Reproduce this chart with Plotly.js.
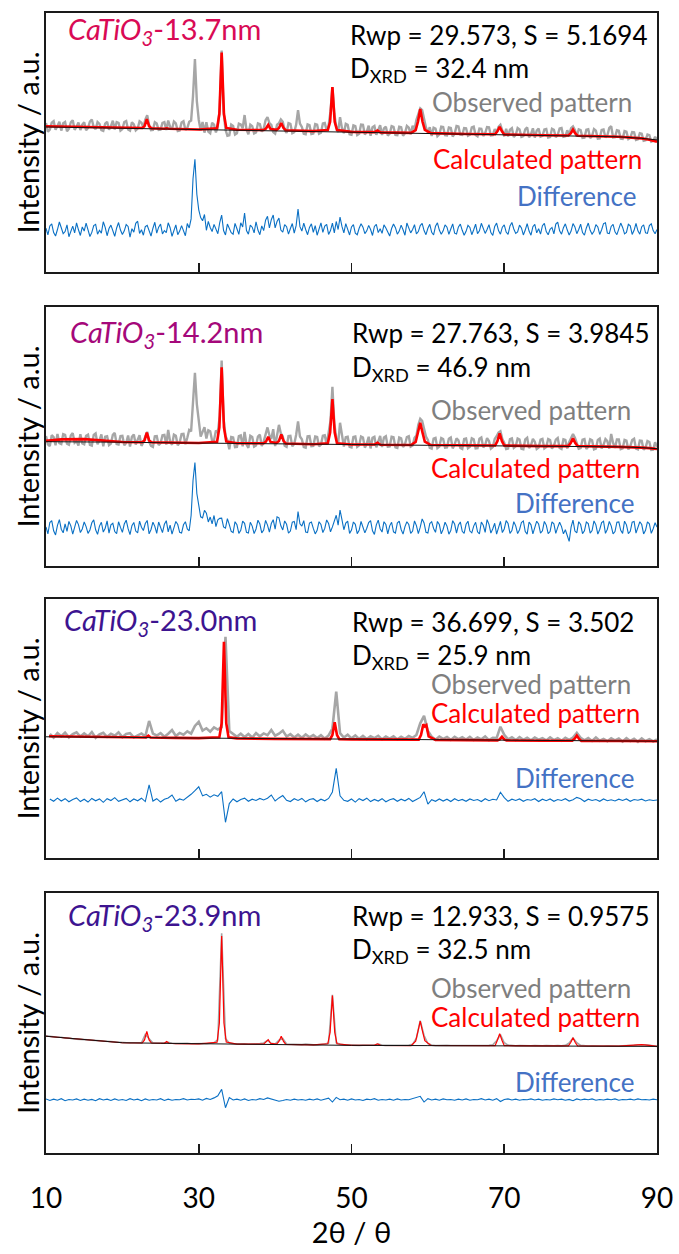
<!DOCTYPE html>
<html>
<head>
<meta charset="utf-8">
<script src="https://cdn.plot.ly/plotly-3.0.1.min.js"></script>
<style>html,body{margin:0;padding:0;background:#fff;}#chart{width:679px;height:1254px;}</style>
</head>
<body>
<div id="chart"></div>
<script>
// ---------- data (intensities in a.u.) ----------
const fineTheta = [10,10.25,10.5,10.75,11,11.25,11.5,11.75,12,12.25,12.5,12.75,13,13.25,13.5,13.75,14,14.25,14.5,14.75,15,15.25,15.5,15.75,16,16.25,16.5,16.75,17,17.25,17.5,17.75,18,18.25,18.5,18.75,19,19.25,19.5,19.75,20,20.25,20.5,20.75,21,21.25,21.5,21.75,22,22.25,22.5,22.75,23,23.25,23.5,23.75,24,24.25,24.5,24.75,25,25.25,25.5,25.75,26,26.25,26.5,26.75,27,27.25,27.5,27.75,28,28.25,28.5,28.75,29,29.25,29.5,29.75,30,30.25,30.5,30.75,31,31.25,31.5,31.75,32,32.25,32.5,32.75,33,33.25,33.5,33.75,34,34.25,34.5,34.75,35,35.25,35.5,35.75,36,36.25,36.5,36.75,37,37.25,37.5,37.75,38,38.25,38.5,38.75,39,39.25,39.5,39.75,40,40.25,40.5,40.75,41,41.25,41.5,41.75,42,42.25,42.5,42.75,43,43.25,43.5,43.75,44,44.25,44.5,44.75,45,45.25,45.5,45.75,46,46.25,46.5,46.75,47,47.25,47.5,47.75,48,48.25,48.5,48.75,49,49.25,49.5,49.75,50,50.25,50.5,50.75,51,51.25,51.5,51.75,52,52.25,52.5,52.75,53,53.25,53.5,53.75,54,54.25,54.5,54.75,55,55.25,55.5,55.75,56,56.25,56.5,56.75,57,57.25,57.5,57.75,58,58.25,58.5,58.75,59,59.25,59.5,59.75,60,60.25,60.5,60.75,61,61.25,61.5,61.75,62,62.25,62.5,62.75,63,63.25,63.5,63.75,64,64.25,64.5,64.75,65,65.25,65.5,65.75,66,66.25,66.5,66.75,67,67.25,67.5,67.75,68,68.25,68.5,68.75,69,69.25,69.5,69.75,70,70.25,70.5,70.75,71,71.25,71.5,71.75,72,72.25,72.5,72.75,73,73.25,73.5,73.75,74,74.25,74.5,74.75,75,75.25,75.5,75.75,76,76.25,76.5,76.75,77,77.25,77.5,77.75,78,78.25,78.5,78.75,79,79.25,79.5,79.75,80,80.25,80.5,80.75,81,81.25,81.5,81.75,82,82.25,82.5,82.75,83,83.25,83.5,83.75,84,84.25,84.5,84.75,85,85.25,85.5,85.75,86,86.25,86.5,86.75,87,87.25,87.5,87.75,88,88.25,88.5,88.75,89,89.25,89.5,89.75,90];
const twoTheta = [10,10.5,11,11.5,12,12.5,13,13.5,14,14.5,15,15.5,16,16.5,17,17.5,18,18.5,19,19.5,20,20.5,21,21.5,22,22.5,23,23.5,24,24.5,25,25.5,26,26.5,27,27.5,28,28.5,29,29.5,30,30.5,31,31.5,32,32.5,33,33.5,34,34.5,35,35.5,36,36.5,37,37.5,38,38.5,39,39.5,40,40.5,41,41.5,42,42.5,43,43.5,44,44.5,45,45.5,46,46.5,47,47.5,48,48.5,49,49.5,50,50.5,51,51.5,52,52.5,53,53.5,54,54.5,55,55.5,56,56.5,57,57.5,58,58.5,59,59.5,60,60.5,61,61.5,62,62.5,63,63.5,64,64.5,65,65.5,66,66.5,67,67.5,68,68.5,69,69.5,70,70.5,71,71.5,72,72.5,73,73.5,74,74.5,75,75.5,76,76.5,77,77.5,78,78.5,79,79.5,80,80.5,81,81.5,82,82.5,83,83.5,84,84.5,85,85.5,86,86.5,87,87.5,88,88.5,89,89.5,90];
const calcTheta = [10,12,15,18,20,22.6,22.9,23.2,23.5,23.8,25.5,25.8,26.1,27,30,32.4,32.7,33.0,33.3,33.6,35,38.5,38.8,39.1,39.4,40.2,40.5,40.8,41.1,41.4,45,46.9,47.2,47.5,47.8,48.1,50,53.0,53.4,53.8,57.8,58.4,58.7,59.0,59.3,59.6,60.4,65,68.8,69.1,69.4,69.7,70.0,75,78.4,78.7,79.0,79.3,79.6,85,87,88,89,90];
const calcTheta3 = [10.4,15,20,23.1,23.4,23.7,27,30,32.7,33.0,33.3,33.6,33.9,35,40,45,47.2,47.5,47.8,48.1,48.4,50,55,58.8,59.1,59.4,59.6,59.8,60.1,61,65,69.1,69.4,69.7,70.0,70.3,75,78.9,79.2,79.5,79.8,80.1,85,90];
const bgTheta = [10,12,15,18,20,25,30,40,50,60,70,80,85,88,90];

// Sample 1: CaTiO3-13.7nm
const obs1 = [57.5,54.2,55.0,57.6,58.2,54.9,56.4,58.0,54.6,57.4,57.9,54.3,55.3,57.8,58.6,54.9,56.1,57.7,54.8,56.9,
57.8,54.7,55.6,58.1,58.9,55.9,55.1,57.9,57.2,54.8,54.5,57.3,58.0,54.9,56.3,58.4,55.0,57.9,57.6,54.6,
55.2,57.9,58.3,55.0,54.6,57.8,57.0,54.7,55.4,58.2,57.6,55.8,58.8,60.5,56.8,54.8,54.9,57.8,57.3,54.9,
55.0,57.6,57.9,54.8,58.5,56.0,55.2,58.1,57.4,54.4,54.6,57.7,58.2,54.9,55.6,58.0,58.5,68.0,82.2,66.0,
58.8,54.6,57.9,53.8,57.8,54.2,53.6,57.6,56.9,53.9,56.5,63.0,85.5,62.0,55.0,52.6,52.8,56.9,56.4,53.1,
53.6,57.3,57.0,55.5,60.6,55.0,53.2,56.9,56.3,53.5,53.9,57.4,57.1,54.2,55.3,58.6,59.8,57.5,56.8,54.0,
53.4,56.9,57.4,58.9,58.0,54.8,53.7,57.5,57.2,53.6,54.0,56.8,62.5,57.3,56.0,53.4,53.2,57.0,56.7,53.3,
53.5,57.1,56.9,53.4,53.8,57.3,57.5,54.6,56.5,62.0,71.4,61.0,56.2,54.0,59.8,55.5,53.6,57.2,56.8,53.2,
53.0,56.6,56.3,52.9,53.4,56.9,56.8,53.1,54.2,56.5,52.6,55.9,56.4,53.0,54.8,56.7,52.9,55.4,56.1,52.7,
53.4,56.3,56.0,52.9,52.8,56.1,55.9,52.6,53.6,56.4,55.7,53.2,56.5,55.0,58.8,61.5,63.2,62.5,58.5,55.8,
53.8,55.9,52.5,55.7,55.4,52.4,53.1,56.1,56.0,52.8,52.7,55.8,55.6,52.3,53.4,56.4,56.2,53.0,52.9,55.6,
55.5,52.6,53.0,55.8,56.1,52.9,52.4,55.4,55.3,52.5,53.6,56.0,55.9,52.7,52.8,55.2,53.8,56.0,56.8,54.5,
52.4,55.3,52.3,54.9,55.5,52.1,52.9,55.6,55.0,52.2,52.5,55.1,55.8,52.0,53.2,55.5,51.9,54.6,55.4,52.3,
52.6,55.0,55.2,51.9,52.1,55.3,54.9,52.0,53.0,55.4,55.6,52.2,52.4,54.7,53.0,55.5,56.2,54.8,52.3,55.1,
54.8,51.8,51.9,54.9,55.1,51.7,52.5,55.2,54.6,51.5,51.6,54.8,55.0,51.9,52.8,55.6,56.3,52.0,52.1,54.7,
54.5,51.5,51.4,54.4,54.2,51.3,51.8,54.0,53.9,51.0,51.2,53.6,53.4,50.7,50.9,53.1,52.8,50.3,50.6,52.2,
51.0];
const calc1 = [56.3,56.2,56.0,55.7,55.6,
55.6,56.3,59.0,56.3,55.5,
55.3,55.5,55.3,
55.2,55.0,
55.5,61.0,84.7,61.0,55.6,
54.9,
54.8,55.4,56.8,55.2,
54.9,55.6,57.5,55.6,54.7,
54.4,
54.8,58.0,71.4,58.0,54.8,
54.1,
54.0,54.6,53.9,
53.7,54.8,58.0,62.9,58.0,54.9,53.6,
53.3,
53.2,54.3,56.0,54.3,53.1,
52.8,
52.7,53.5,55.0,53.5,52.6,
52.2,51.9,51.6,51.1,50.3];
const bg1 = [56.0,55.9,55.8,55.6,55.5,55.3,55.0,54.5,54.0,53.5,53.1,52.6,52.2,51.6,51.0];
const diff1 = [16.9,14.3,17.8,18.6,15.2,13.9,16.4,19.3,17.1,14.8,15.6,18.2,13.6,16.0,17.7,15.1,19.0,16.3,14.1,17.4,
15.8,18.9,16.6,13.7,15.3,17.9,18.4,14.6,16.1,15.0,19.4,17.2,14.0,16.8,18.1,15.5,13.8,17.0,19.1,16.2,
14.5,15.9,18.3,17.6,13.5,16.7,15.4,18.8,19.6,14.9,16.3,14.2,17.5,18.0,15.7,13.9,16.9,19.2,15.0,17.3,
18.5,14.7,16.0,15.2,19.0,17.1,13.8,16.5,18.2,14.4,15.8,17.9,16.2,14.0,18.7,17.0,20.5,36.0,43.5,30.0,
24.0,21.0,19.8,22.2,16.1,19.5,17.2,15.6,18.4,16.9,14.8,19.1,22.0,16.0,14.3,18.5,17.0,15.2,14.6,18.8,
16.7,14.5,19.0,17.4,22.8,16.0,14.6,18.1,17.3,15.1,19.4,16.2,14.4,17.8,16.0,20.0,21.5,17.0,20.2,22.0,
17.0,19.5,20.8,16.2,15.4,18.3,17.5,14.6,16.8,18.7,15.0,17.9,24.3,17.5,15.8,18.9,16.4,14.4,17.2,18.6,
15.3,17.9,14.2,16.6,19.0,15.3,17.7,18.4,14.5,16.0,18.9,15.1,19.5,16.4,21.2,17.6,15.1,18.7,16.5,14.3,
17.4,18.3,15.0,14.4,16.9,18.6,17.3,14.8,15.9,18.0,16.4,14.1,17.6,18.4,15.2,16.7,14.9,18.2,17.0,15.4,
13.9,16.8,18.5,17.1,14.6,15.8,18.1,16.3,14.2,18.9,17.0,15.1,16.4,18.3,14.7,15.6,17.9,18.8,16.0,14.4,
16.9,18.4,15.3,14.3,17.7,19.0,16.2,14.6,15.9,18.2,17.3,14.5,16.6,18.6,15.0,14.7,17.4,18.5,16.1,14.2,
15.7,18.0,17.2,14.4,16.3,18.5,14.8,15.9,18.8,17.0,14.9,16.4,18.3,15.2,14.1,17.6,18.9,16.0,14.6,17.3,
18.2,15.4,14.5,17.8,19.1,16.6,14.9,15.5,18.1,17.0,14.3,16.2,18.7,15.8,14.2,17.5,18.4,15.1,16.7,14.6,
17.9,18.8,15.6,14.4,16.5,17.2,14.7,18.5,19.3,15.9,14.6,17.1,18.6,16.2,14.3,15.8,18.7,17.4,14.8,16.4,
18.5,15.2,14.2,17.0,18.9,16.1,14.6,15.7,18.3,17.4,14.5,16.3,18.7,19.0,15.0,14.8,17.6,18.4,15.5,14.4,
16.8,18.9,17.2,14.7,15.3,18.4,17.8,14.5,16.1,18.8,15.9,14.6,17.5,18.2,15.1,14.9,17.9,18.6,16.0,14.8,
16.4];

// Sample 2: CaTiO3-14.2nm
const obs2 = [50.2,47.0,46.3,50.5,49.8,46.6,51.0,47.4,47.1,50.9,50.6,47.2,46.8,50.4,51.3,47.6,48.2,46.5,50.9,47.3,
47.0,50.3,50.7,46.8,46.5,50.6,51.2,47.0,48.4,50.8,46.2,49.9,50.1,46.7,47.3,50.6,51.4,47.1,46.9,50.2,
50.3,46.6,47.5,50.4,46.1,49.9,50.8,46.9,48.7,50.5,46.4,47.8,50.0,51.8,48.0,46.4,46.0,50.1,50.2,46.7,
47.4,50.5,50.6,46.9,52.5,48.0,46.8,50.7,50.3,46.6,47.7,50.9,51.0,47.0,49.5,52.5,52.0,62.0,74.6,62.5,
55.0,50.0,51.8,53.6,49.2,52.4,52.0,48.4,48.6,52.3,51.5,58.0,79.3,57.0,50.2,48.6,45.1,49.8,49.6,45.9,
46.0,50.1,50.4,46.2,51.8,47.0,45.6,50.3,49.8,46.1,46.5,50.0,50.7,46.3,48.0,51.0,53.5,50.5,49.0,52.8,
46.3,50.4,54.5,51.2,50.1,46.4,46.0,50.2,50.3,46.2,47.1,50.6,55.8,50.0,48.9,45.9,45.7,50.1,50.2,46.3,
46.4,50.0,49.8,46.2,46.9,50.3,50.5,46.8,50.8,56.0,69.2,55.0,49.6,47.0,55.3,50.5,46.1,49.7,49.9,46.0,
45.8,49.8,50.0,46.0,46.6,50.0,49.6,45.7,47.3,49.9,45.4,49.5,49.9,45.8,48.2,50.2,45.9,49.6,50.1,46.1,
46.2,49.9,49.7,45.8,45.6,49.6,49.3,45.9,47.0,49.8,50.1,46.1,46.5,49.5,50.4,54.5,56.8,56.0,53.0,50.0,
48.7,45.6,45.3,49.2,49.5,45.5,46.1,49.4,49.0,45.7,45.8,49.1,49.6,45.4,46.9,49.3,48.5,45.6,45.2,49.0,
49.2,45.5,46.0,49.3,48.9,45.4,45.5,49.1,49.6,45.8,46.7,49.4,48.3,45.3,45.9,49.0,50.1,51.5,52.0,49.0,
47.6,45.2,45.4,49.0,49.3,45.6,46.2,49.2,48.8,45.3,45.1,48.9,49.5,45.5,46.6,49.1,48.0,45.2,45.7,48.8,
49.1,45.4,45.9,49.0,48.6,45.3,46.4,48.8,49.4,45.6,45.2,48.9,48.7,45.4,47.8,49.8,51.0,49.5,47.5,45.3,
45.5,48.8,49.0,45.2,46.1,48.9,48.5,45.0,45.3,48.7,49.2,45.4,46.8,49.0,48.2,45.3,51.0,47.5,45.6,48.9,
48.9,45.1,45.4,48.7,48.4,45.0,46.2,48.6,49.1,45.3,45.0,48.4,48.3,44.9,45.7,48.3,47.9,44.8,44.9,47.8,
46.0];
const calc2 = [48.3,48.9,49.0,48.3,47.9,
47.8,48.5,51.5,48.5,47.8,
47.7,47.9,47.7,
47.6,47.5,
48.0,53.5,76.7,53.5,48.1,
47.4,
47.4,48.0,49.9,47.9,
47.5,48.3,50.8,48.3,47.3,
47.0,
47.4,51.5,64.4,51.5,47.4,
46.9,
46.9,47.6,46.8,
46.7,47.9,51.5,55.3,51.5,48.0,46.7,
46.5,
46.5,48.2,51.2,48.2,46.5,
46.3,
46.3,47.5,49.3,47.5,46.3,
46.0,45.9,45.7,45.5,45.2];
const bg2 = [48.0,48.0,47.9,47.8,47.8,47.6,47.5,47.2,46.9,46.6,46.4,46.2,46.0,45.7,45.3];
const diff2 = [15.1,12.4,16.8,17.5,13.6,12.0,15.7,17.9,14.2,12.8,16.3,13.4,17.2,15.5,12.3,14.8,17.6,16.0,12.9,14.3,
17.0,15.2,12.6,13.9,16.7,17.8,14.0,12.2,15.4,16.9,13.1,14.6,17.4,12.7,15.9,16.5,13.3,12.5,17.1,14.9,
13.0,16.2,17.7,14.4,12.1,15.6,16.8,13.5,12.8,17.3,15.0,13.7,16.4,17.6,12.4,14.1,16.9,15.3,12.6,17.0,
14.7,12.9,16.1,17.5,13.2,15.8,12.3,14.9,17.2,16.0,13.0,12.7,15.9,17.1,14.3,13.6,19.5,33.0,39.9,28.0,
22.5,19.0,18.6,21.5,20.4,17.0,18.9,16.3,19.5,15.2,17.8,18.4,18.5,15.1,14.6,18.3,16.0,13.4,12.9,17.1,
15.9,12.6,13.8,17.3,16.5,13.0,12.7,16.9,15.4,12.5,14.3,17.7,16.2,12.8,13.9,17.6,15.8,13.1,16.4,17.9,
14.2,19.0,18.6,15.5,13.9,17.4,16.1,12.7,13.5,16.9,17.2,14.0,21.0,16.3,15.4,17.5,13.1,12.9,16.6,17.0,
14.5,12.4,13.8,17.1,16.0,12.9,14.5,17.8,16.4,13.2,15.1,17.6,19.6,15.8,21.6,17.9,14.0,16.6,17.3,12.6,
13.9,17.0,16.1,12.5,13.8,17.2,15.0,12.8,14.6,16.8,17.5,13.6,12.2,15.9,17.7,14.4,13.1,17.1,16.0,12.4,
15.5,16.9,13.2,12.7,16.6,17.3,14.1,12.3,15.2,17.1,16.0,12.6,13.5,17.4,15.6,12.5,15.0,18.2,16.6,13.0,
12.7,16.4,17.1,14.5,13.0,17.2,16.0,12.4,14.2,16.9,15.4,12.3,13.7,17.5,16.2,12.7,15.8,17.0,13.4,12.6,
16.1,17.3,13.5,12.8,15.4,16.9,13.2,12.4,17.0,15.7,13.0,17.9,16.1,12.7,14.4,16.5,12.3,15.3,17.2,12.9,
14.3,17.5,16.4,12.6,13.7,17.1,15.5,12.5,14.0,16.8,17.4,13.3,12.3,17.0,15.9,12.4,14.8,17.3,16.2,12.7,
13.6,17.2,15.8,12.5,13.3,17.0,16.3,12.6,14.9,16.9,15.2,12.4,14.0,12.0,9.5,15.0,17.7,13.5,12.8,17.1,
16.0,12.5,13.6,17.0,16.4,12.7,13.7,17.4,15.9,12.3,14.1,16.8,17.3,12.6,14.2,17.2,15.5,12.4,13.3,16.9,
17.0,13.8,12.6,17.3,15.9,12.5,13.4,16.9,17.2,12.7,15.1,17.1,16.0,12.4,13.8,17.0,16.3,12.6,14.4,16.7,
15.0];

// Sample 3: CaTiO3-23.0nm
const obs3 = [null,47.9,46.5,48.2,47.0,48.4,46.6,47.8,48.5,46.9,
48.1,47.0,48.6,46.4,47.7,48.3,46.8,48.0,47.2,48.5,
46.7,47.9,48.2,46.6,47.5,48.1,46.9,52.9,48.0,47.3,
48.2,46.8,48.0,49.4,47.1,48.3,47.6,48.9,48.0,51.0,
52.6,49.2,50.1,48.8,50.4,49.6,50.5,85.4,49.0,47.9,
46.8,48.0,46.7,47.9,46.5,48.2,47.0,48.1,47.4,49.4,
47.2,48.0,49.2,46.9,47.8,46.5,47.6,46.4,47.7,46.6,
47.5,46.3,47.4,46.1,47.3,50.0,64.2,48.2,46.5,47.6,
46.2,47.3,46.0,47.1,45.9,47.0,46.3,47.2,45.8,46.9,
46.1,47.0,45.8,46.8,46.0,47.1,46.4,47.5,52.0,54.9,
49.0,46.8,45.7,46.9,46.0,46.7,45.6,46.8,45.9,46.6,
45.7,46.8,45.6,46.5,45.8,46.9,45.5,46.4,46.3,50.7,
47.6,45.8,46.6,45.5,46.7,45.6,46.4,45.4,46.5,45.7,
46.3,45.4,46.6,45.5,46.2,45.3,46.4,45.6,46.5,48.3,
46.4,45.4,46.3,45.2,46.5,45.3,46.0,45.1,46.2,45.4,
46.1,45.0,46.3,45.2,46.0,44.9,46.2,45.1,45.9,45.0,
45.8];
const calc3 = [47.0,46.8,46.6,46.5,47.2,46.5,46.4,46.3,46.6,52.0,83.5,52.0,46.6,46.2,46.0,45.9,45.9,47.5,52.4,47.5,45.9,45.8,45.7,45.7,47.5,51.6,50.8,51.3,47.0,45.6,45.5,45.4,45.8,46.8,45.8,45.4,45.3,45.3,46.0,47.3,46.0,45.2,45.2,45.1];
const bg3 = [46.8,46.8,46.7,46.6,46.6,46.4,46.3,46.0,45.8,45.6,45.4,45.25,45.2,45.15,45.1];
const diff3 = [null,22.8,21.9,23.1,22.0,22.9,21.7,22.6,23.2,21.8,
22.7,21.6,23.0,22.1,22.8,21.5,22.9,22.2,23.3,21.9,
22.5,23.0,21.7,22.8,22.1,23.1,21.8,28.2,22.0,22.9,
21.6,22.7,23.2,24.3,21.9,22.8,22.3,23.4,24.6,26.0,
27.5,24.0,24.6,23.5,24.4,23.8,25.6,13.8,21.0,22.8,
21.7,22.6,23.1,21.9,22.7,22.2,23.0,22.4,23.1,24.3,
22.0,23.2,24.1,22.3,21.8,22.9,22.2,23.0,21.7,22.6,
22.9,21.8,22.7,22.1,23.0,25.5,34.6,24.0,22.3,21.9,
22.8,21.6,22.9,22.2,23.1,21.8,22.6,22.0,22.9,21.7,
22.5,22.9,21.9,22.7,22.1,23.0,21.8,22.6,23.4,25.6,
20.8,22.5,21.9,22.8,22.0,22.7,21.8,22.9,22.1,22.6,
21.9,22.8,22.2,22.6,21.8,22.9,22.1,22.7,22.4,25.4,
23.3,21.9,22.7,22.2,22.8,21.9,22.6,22.3,22.9,21.8,
22.7,22.1,22.8,21.9,22.6,22.2,22.9,22.0,22.5,23.4,
22.9,21.8,22.7,22.2,22.6,21.9,22.8,22.1,22.5,22.0,
22.7,22.2,22.8,21.9,22.6,22.3,22.7,22.0,22.5,22.2,
22.4];

// Sample 4: CaTiO3-23.9nm
const obs4 = [45.1,44.8,44.7,44.5,44.5,44.2,44.2,43.9,43.9,43.7,
43.6,43.5,43.2,43.2,43.0,42.9,42.8,42.7,42.6,42.5,
42.4,42.4,42.3,42.4,42.3,42.4,45.6,43.8,42.3,42.3,
42.2,42.3,42.6,42.2,42.1,42.2,42.1,42.2,42.0,42.1,
42.0,42.1,42.0,42.2,42.4,43.5,84.5,44.0,42.3,42.0,
41.9,41.9,42.0,41.8,41.9,41.9,42.1,42.3,43.3,42.2,
41.9,43.4,44.0,41.9,41.8,41.7,41.8,41.7,41.9,41.7,
41.6,41.6,41.7,41.9,42.3,60.8,42.4,41.8,41.6,41.5,
41.4,41.5,41.4,41.5,41.5,41.6,41.5,41.9,41.5,41.4,
41.4,41.3,41.4,41.3,41.4,41.5,41.8,44.2,50.9,45.2,
42.1,41.5,41.3,41.4,41.3,41.4,41.3,41.3,41.4,41.3,
41.3,41.4,41.3,41.3,41.4,41.3,41.4,41.6,43.2,45.5,
42.4,41.5,41.3,41.2,41.3,41.2,41.3,41.2,41.3,41.2,
41.2,41.3,41.2,41.2,41.3,41.2,41.4,42.3,44.2,42.4,
41.4,41.2,41.1,41.2,41.1,41.2,41.1,41.2,41.1,41.2,
41.1,41.2,41.2,41.3,41.4,41.6,41.7,41.6,41.4,41.2,
41.0];
const calc4 = [44.9,44.4,43.6,42.8,42.4,
42.3,43.5,46.8,43.5,42.3,
42.2,42.9,42.2,
42.1,42.0,
42.6,50.0,83.5,50.0,42.7,
41.9,
41.9,42.6,43.6,42.2,
41.9,42.9,44.9,42.9,41.8,
41.6,
42.0,46.5,60.6,46.5,42.0,
41.4,
41.4,42.0,41.4,
41.3,43.0,46.8,50.7,46.8,43.2,41.4,
41.3,
41.3,43.4,45.9,43.4,41.3,
41.2,
41.2,42.5,44.3,42.5,41.2,
41.1,41.4,41.7,41.4,41.0];
const bg4 = [44.9,44.4,43.6,42.8,42.4,42.2,42.0,41.7,41.4,41.3,41.2,41.1,41.05,41.0,41.0];
const diff4 = [20.8,20.2,20.7,20.3,20.9,20.1,20.6,20.4,20.8,20.2,
20.7,20.3,20.6,20.1,20.9,20.4,20.7,20.2,20.8,20.3,
20.6,20.2,20.9,20.4,20.7,20.1,20.8,20.3,20.6,20.4,
20.9,20.2,20.7,20.3,20.6,20.5,20.9,20.4,20.7,20.6,
20.8,20.3,21.0,20.6,21.2,22.0,24.5,17.4,21.3,20.4,
20.7,20.3,20.8,20.2,20.6,20.4,20.9,20.6,21.2,20.8,
20.3,19.9,20.2,20.6,20.3,20.7,20.4,20.6,20.3,20.7,
20.4,20.8,20.3,20.6,21.1,19.6,21.4,20.5,20.7,20.3,
20.8,20.4,20.6,20.2,20.7,20.5,20.9,20.3,20.6,20.4,
20.7,20.3,20.8,20.4,20.6,20.5,20.9,21.2,21.8,19.6,
20.9,20.4,20.7,20.3,20.8,20.5,20.6,20.3,20.7,20.4,
20.8,20.3,20.6,20.5,20.9,20.4,20.7,20.3,20.9,19.8,
20.6,20.8,20.4,20.7,20.3,20.6,20.5,20.8,20.4,20.7,
20.3,20.6,20.4,20.8,20.5,20.7,20.3,20.6,20.1,20.8,
20.4,20.7,20.5,20.8,20.3,20.6,20.4,20.7,20.5,20.8,
20.3,20.6,20.5,20.7,20.4,20.8,20.5,20.6,20.4,20.7,
20.5];

// labels
const sampleSize = ['13.7nm','14.2nm','23.0nm','23.9nm'];
const rwpValues = ['29.573','27.763','36.699','12.933'];
const sValues = ['5.1694','3.9845','3.502','0.9575'];
const dxrdValues = ['32.4','46.9','25.9','32.5'];
const tickVals = [10,30,50,70,90];
const innerTicks = [30,50,70];

// ---------- styling ----------
const FONT = 'Lato, "Open Sans", "DejaVu Sans", sans-serif';
const titleColors = ['#d90a55','#a5087a','#3d1490','#3d1490'];
const obsWidth = [2.4,2.4,2.6,1.6];
const calcWidth = [2.6,2.6,2.6,1.2];
const domains = [[0.77281,1],[0.51491,0.74211],[0.25877,0.48596],[0,0.22807]];
// text positions per panel: [x(2θ), y(a.u.)]
const pos = [
  {title:[12.68,93.1], rwp:[49.5,91.5], d:[49.5,78.0], o:[60.24,65.75], c:[60.37,43.5], df:[71.35,29.3]},
  {title:[12.94,89.8], rwp:[49.85,90.0], d:[49.85,76.4], o:[60.1,60.2], c:[60.2,37.95], df:[71.2,24.2]},
  {title:[12.1,91.2], rwp:[49.85,91.0], d:[49.85,77.7], o:[60.1,67.2], c:[60.1,56.1], df:[71.1,30.8]},
  {title:[12.6,90.9], rwp:[49.85,91.3], d:[49.85,77.8], o:[60.1,63.3], c:[60.1,52.4], df:[71.2,27.4]}
];

const panels = [
  {ox:fineTheta, obs:obs1, calc:calc1, cx:calcTheta, bg:bg1, diff:diff1},
  {ox:fineTheta, obs:obs2, calc:calc2, cx:calcTheta, bg:bg2, diff:diff2},
  {ox:twoTheta, obs:obs3, calc:calc3, cx:calcTheta3, bg:bg3, diff:diff3},
  {ox:twoTheta, obs:obs4, calc:calc4, cx:calcTheta, bg:bg4, diff:diff4}
];

const traces = [];
const annotations = [];
const layout = {
  width:679, height:1254,
  margin:{l:46, r:22, t:13, b:101},
  paper_bgcolor:'#ffffff', plot_bgcolor:'#ffffff',
  showlegend:false,
  font:{family:FONT, color:'#000000'},
  annotations:annotations
};

panels.forEach((p, i) => {
  const n = i + 1;
  const xa = n === 1 ? 'x' : 'x' + n;
  const ya = n === 1 ? 'y' : 'y' + n;
  traces.push({x:p.ox, y:p.obs, xaxis:xa, yaxis:ya, type:'scatter', mode:'lines',
    line:{color:'#a6a6a6', width:obsWidth[i]}, hoverinfo:'skip'});
  traces.push({x:p.cx, y:p.calc, xaxis:xa, yaxis:ya, type:'scatter', mode:'lines',
    line:{color:'#ff0000', width:calcWidth[i]}, hoverinfo:'skip'});
  traces.push({x:bgTheta, y:p.bg, xaxis:xa, yaxis:ya, type:'scatter', mode:'lines',
    line:{color:'#111111', width:1}, hoverinfo:'skip'});
  traces.push({x:p.ox, y:p.diff, xaxis:xa, yaxis:ya, type:'scatter', mode:'lines',
    line:{color:'#0a70c4', width:1.1}, hoverinfo:'skip'});

  const last = n === 4;
  const xaxis = {
    anchor:ya, range:[10,90], showline:true, mirror:true, linecolor:'#1a1a1a', linewidth:1.6,
    ticks:'inside', ticklen:9, tickwidth:1.6, tickcolor:'#1a1a1a',
    tickmode:'array', tickvals: last ? tickVals : innerTicks,
    showticklabels:last, showgrid:false, zeroline:false, fixedrange:true
  };
  if (last) {
    xaxis.ticktext = tickVals.map(String);
    xaxis.tickfont = {size:28, family:FONT, color:'#000'};
    xaxis.ticklabelstandoff = 20;
    xaxis.title = {text:'2θ / θ', font:{size:29, family:FONT, color:'#000'}, standoff:8};
  }
  layout[n === 1 ? 'xaxis' : 'xaxis' + n] = xaxis;
  layout[n === 1 ? 'yaxis' : 'yaxis' + n] = {
    anchor:xa, domain:domains[i], range:[0,100], showline:true, mirror:true,
    linecolor:'#1a1a1a', linewidth:1.6, ticks:'', showticklabels:false,
    showgrid:false, zeroline:false, fixedrange:true
  };

  const P = pos[i];
  const base = {xref:xa, yref:ya, showarrow:false, xanchor:'left', yanchor:'middle'};
  annotations.push(Object.assign({}, base, {x:P.title[0], y:P.title[1],
    text:'<i>CaTiO<sub>3</sub></i>-' + sampleSize[i], font:{size:29, family:FONT, color:titleColors[i]}}));
  annotations.push(Object.assign({}, base, {x:P.rwp[0], y:P.rwp[1],
    text:'Rwp = ' + rwpValues[i] + ', S = ' + sValues[i], font:{size:26, family:FONT, color:'#000'}}));
  annotations.push(Object.assign({}, base, {x:P.d[0], y:P.d[1],
    text:'D<sub>XRD</sub> = ' + dxrdValues[i] + ' nm', font:{size:26, family:FONT, color:'#000'}}));
  annotations.push(Object.assign({}, base, {x:P.o[0], y:P.o[1],
    text:'Observed pattern', font:{size:26, family:FONT, color:'#7f7f7f'}}));
  annotations.push(Object.assign({}, base, {x:P.c[0], y:P.c[1],
    text:'Calculated pattern', font:{size:26, family:FONT, color:'#ff0000'}}));
  annotations.push(Object.assign({}, base, {x:P.df[0], y:P.df[1],
    text:'Difference', font:{size:26, family:FONT, color:'#4472c4'}}));
  annotations.push({xref:'paper', yref:ya + ' domain', x:-0.031, y:0.5, xanchor:'center', yanchor:'middle',
    showarrow:false, textangle:-90, text:'Intensity / a.u.', font:{size:29, family:FONT, color:'#000'}});
});

Plotly.newPlot('chart', traces, layout, {displayModeBar:false, staticPlot:true});
</script>
</body>
</html>
